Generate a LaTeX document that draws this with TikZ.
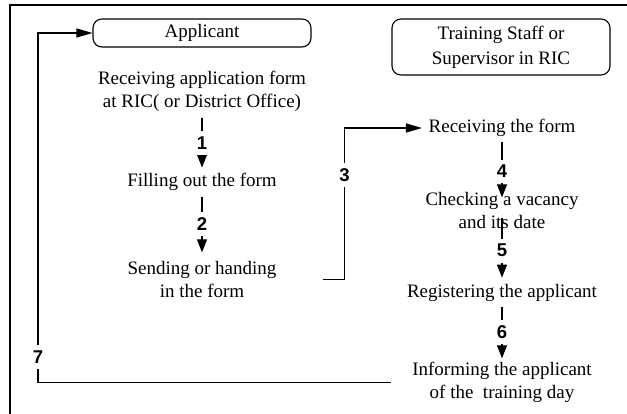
\documentclass[tikz,border=0pt]{standalone}
\usepackage{fontspec}
\setmainfont{Liberation Serif}
\newfontfamily\numfont{Liberation Sans}
\usetikzlibrary{arrows.meta}
\begin{document}
\begin{tikzpicture}[x=1pt,y=-1pt,
  txt/.style={inner sep=0pt, align=center, font=\fontsize{19}{23.5}\selectfont},
  hdr/.style={draw, line width=1.1pt, rounded corners=9pt, minimum width=218pt, inner sep=0pt, align=center, font=\fontsize{19}{25}\selectfont},
  num/.style={fill=white, inner xsep=2pt, inner ysep=5.5pt, font=\numfont\bfseries\fontsize{18.5}{18.5}\selectfont},
  varr/.style={line width=1.1pt, -{Triangle[length=13pt,width=10pt]}},
  harr/.style={line width=1.1pt, -{Triangle[length=16pt,width=9pt]}},
  frameline/.style={line width=1.1pt}]
\useasboundingbox (0,0) rectangle (627,414);
\draw[frameline] (10,414) -- (10,5) -- (627,5);
% headers
\node[hdr, minimum height=28pt] (app) at (202,33) {Applicant};
\node[hdr, minimum height=56pt] (staff) at (501,47) {Training Staff or\\Supervisor in RIC};
% applicant column
\node[txt] (recv) at (202,91.5) {Receiving application form\\at RIC( or District Office)};
\node[txt] (fill) at (202,182) {Filling out the form};
\node[txt] (send) at (202,279.5) {Sending or handing\\in the form};
% staff column
\node[txt] (rform) at (502,128) {Receiving the form};
\node[txt] (check) at (502,210.5) {Checking a vacancy\\and its date};
\node[txt] (reg) at (502,293) {Registering the applicant};
\node[txt] (inform) at (502,382.5) {Informing the applicant\\of the~ training day};
\coordinate (k7) at (38,380);
% connectors
\draw[varr, shorten <=6pt, shorten >=5.5pt] (recv) -- node[num, pos=0.507]{1} (fill);
\draw[varr, shorten <=6.4pt, shorten >=8.5pt] (fill) -- node[num, pos=0.477]{2} (send);
\draw[varr, shorten <=5.4pt, shorten >=-5.5pt] (rform) -- node[num, pos=0.63]{4} (check);
\draw[varr, shorten <=-11.5pt, shorten >=6.5pt] (check) -- node[num, pos=0.39]{5} (reg);
\draw[varr, shorten <=5.4pt, shorten >=3.5pt] (reg) -- node[num, pos=0.507]{6} (inform);
\draw[harr, shorten <=46pt, shorten >=6.5pt] (send.east) -- ++(68,0) |- node[num, pos=0.345]{3} (rform.west);
\draw[harr, shorten <=21pt] (inform.west) -- (inform.west -| k7) |- node[num, pos=0.036]{7} (app.west);
\end{tikzpicture}
\end{document}
